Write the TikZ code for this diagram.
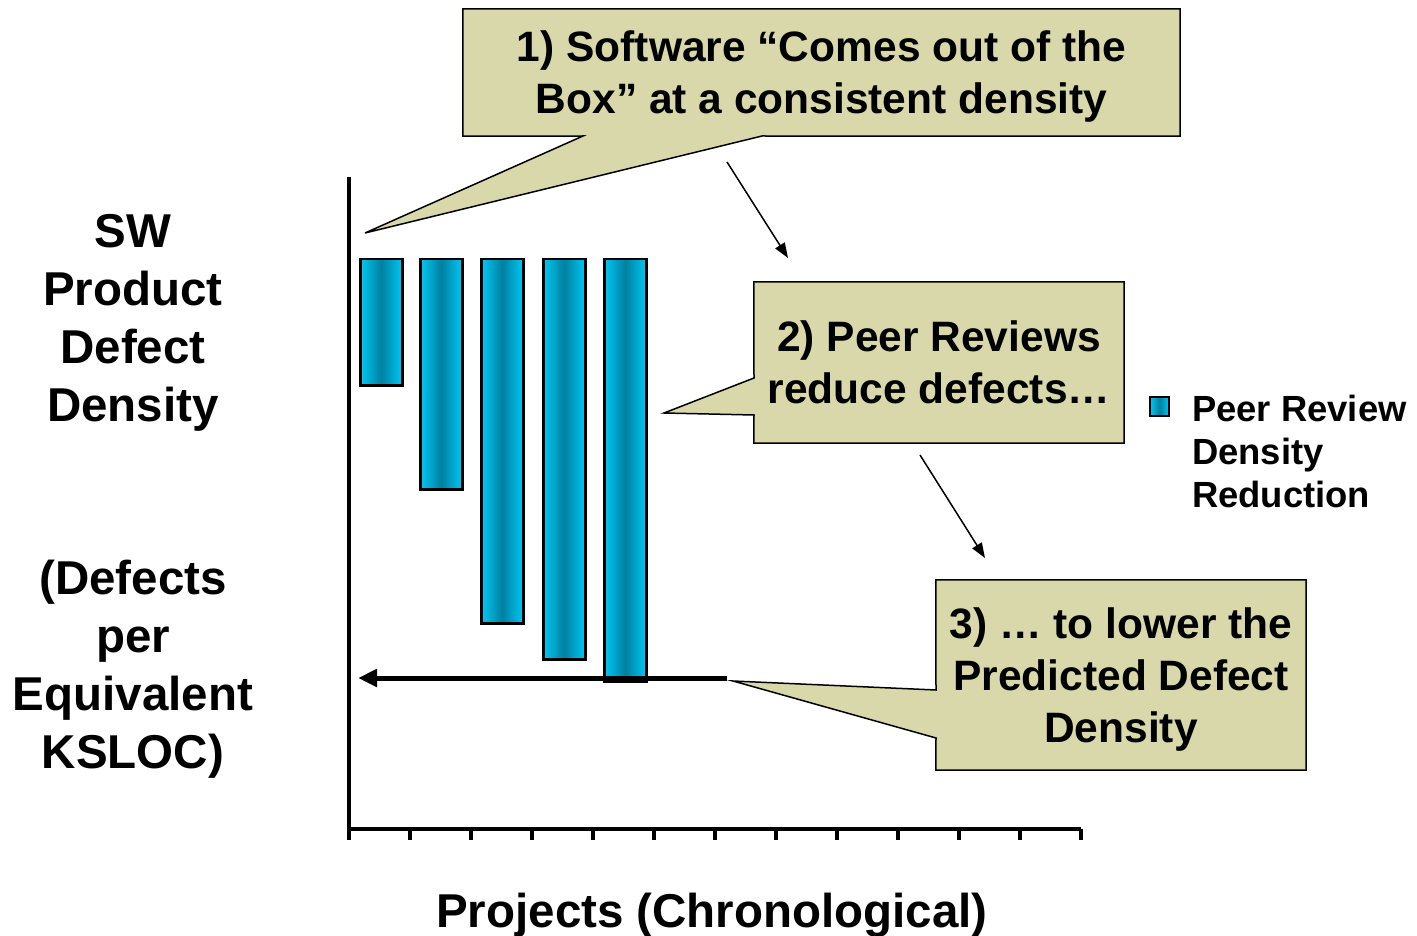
\documentclass[tikz,border=0pt]{standalone}
\usepackage{fontspec}
\setmainfont{Liberation Sans}
\usetikzlibrary{arrows.meta,backgrounds}
\definecolor{bubblefill}{RGB}{217,216,170}
\definecolor{barlight}{RGB}{0,200,244}
\definecolor{bardark}{RGB}{0,128,160}
\tikzset{
  bubble/.style={inner sep=0pt, align=center, text depth=0pt, font=\bfseries\fontsize{42.5}{52}\selectfont},
  bubbleline/.style={draw=black, line width=1.5pt, fill=bubblefill},
  bar/.style={draw=black, line width=2.5pt, left color=barlight, right color=barlight,
    middle color=bardark, inner sep=0pt, minimum width=42pt, anchor=north west},
  axistext/.style={align=center, text depth=0pt, font=\bfseries\fontsize{47.5}{58}\selectfont},
  pointer/.style={line width=1.5pt, -{Triangle[length=15pt,width=11pt]}}
}
\begin{document}
\begin{tikzpicture}[x=1pt,y=-1pt]
\useasboundingbox (0,0) rectangle (1417,936);
% axes
\draw[line width=4pt] (349,177) -- (349,829) -- (1081,829);
\foreach \t in {0,...,12} \draw[line width=3.5pt] (349+\t*61,829) -- ++(0,11);
% bars
\foreach \l/\b [count=\i] in {359/384,419/488,480/622,542/658,603/680}
  \node[bar, minimum height={(\b-258)*1pt}] (bar\i) at (\l,258) {};
% axis labels
\node[axistext] (ylabA) at (133,318) {SW\\Product\\Defect\\Density};
\node[axistext] (ylabB) at (133,664) {(Defects\\per\\Equivalent\\KSLOC)};
\node[axistext] (xlab) at (712,910) {Projects (Chronological)};
% callouts
\node[bubble, minimum width=717pt, minimum height=127pt] (step1) at (821.5,72.5)
  {1) Software “Comes out of the\\Box” at a consistent density};
\node[bubble, minimum width=370pt, minimum height=161pt] (step2) at (939,362.5)
  {2) Peer Reviews\\reduce defects…};
\node[bubble, minimum width=370pt, minimum height=190pt] (step3) at (1121,675)
  {3) … to lower the\\Predicted Defect\\Density};
\coordinate (tip1) at (365,233);
\coordinate (tip2) at (664,413);
\coordinate (tip3) at (733,681);
\begin{scope}[on background layer]
\draw[bubbleline] (step1.north west) -- (step1.north east) -- (step1.south east)
  -- (762,136) -- (tip1) -- (583,136) -- (step1.south west) -- cycle;
\draw[bubbleline] (step2.north west) -- (step2.north east) -- (step2.south east)
  -- (step2.south west) -- (754,415) -- (tip2) -- (754,378) -- cycle;
\draw[bubbleline] (step3.north west) -- (step3.north east) -- (step3.south east)
  -- (step3.south west) -- (936,738) -- (tip3) -- (936,690) -- cycle;
\end{scope}
% arrows
\coordinate (arrA) at (727,162);
\coordinate (arrB) at (788,258);
\coordinate (arrC) at (920,455);
\coordinate (arrD) at (985,558);
\draw[pointer] (arrA) -- (arrB);
\draw[pointer] (arrC) -- (arrD);
\coordinate (lvlR) at (727,678);
\coordinate (lvlL) at (358,678);
\draw[line width=5pt, -{Triangle[length=19pt,width=17pt]}] (lvlR) -- (lvlL);
% legend
\node[draw=black, line width=2pt, left color=barlight, right color=barlight,
  middle color=bardark, minimum size=19pt, inner sep=0pt] (legbox) at (1159.5,406.5) {};
\node[anchor=west, align=left, inner sep=0pt, font=\bfseries\fontsize{36.4}{43}\selectfont]
  (legtext) at (1192,451) {Peer Review\\Density\\Reduction};
\end{tikzpicture}
\end{document}
